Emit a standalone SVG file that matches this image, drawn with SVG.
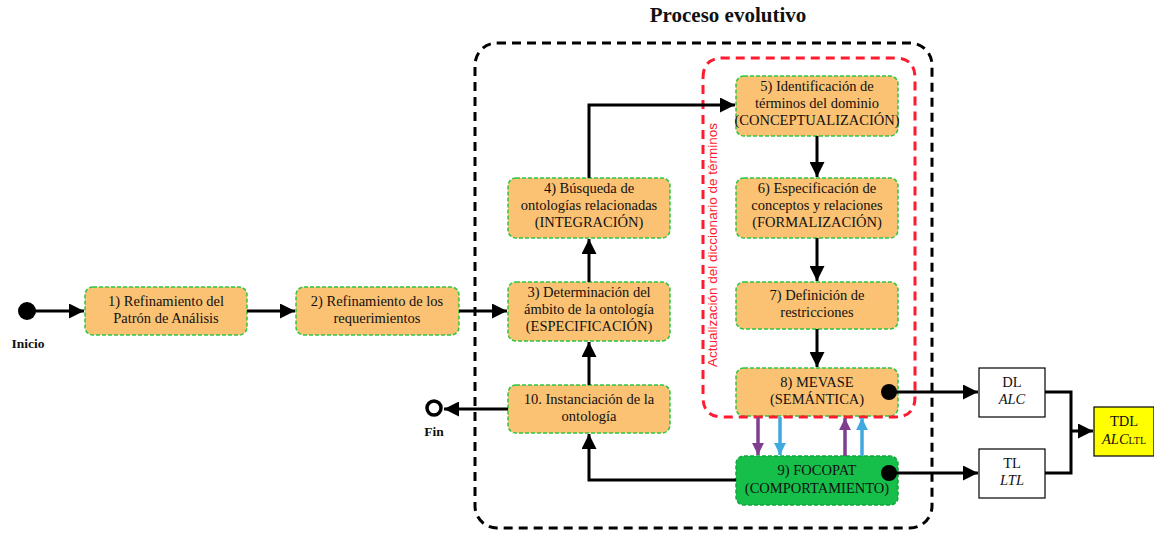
<svg xmlns="http://www.w3.org/2000/svg" width="1154" height="533" viewBox="0 0 1154 533">
  <defs>
    <marker id="ah" viewBox="0 0 10 10" refX="10" refY="5" markerWidth="6.5" markerHeight="5" markerUnits="strokeWidth" orient="auto">
      <path d="M0,0 L10,5 L0,10 z" fill="#000"/>
    </marker>
    <marker id="ahPurple" viewBox="0 0 10 10" refX="10" refY="5" markerWidth="3.6" markerHeight="3.4" markerUnits="strokeWidth" orient="auto">
      <path d="M0,0 L10,5 L0,10 z" fill="#7f3f8f"/>
    </marker>
    <marker id="ahBlue" viewBox="0 0 10 10" refX="10" refY="5" markerWidth="3.6" markerHeight="3.4" markerUnits="strokeWidth" orient="auto">
      <path d="M0,0 L10,5 L0,10 z" fill="#3fa9e0"/>
    </marker>
  </defs>
  <style>
    .step { fill: #fbc273; stroke: #2cc640; stroke-width: 1.5; stroke-dasharray: 4 2; }
    .step-green { fill: #15bf4a; stroke: #0ea83b; stroke-width: 1.5; stroke-dasharray: 4 2; }
    .logic { fill: #fff; stroke: #000; stroke-width: 1.2; }
    .label { font-family: "Liberation Serif", serif; font-size: 14.5px; fill: #111; text-anchor: middle; }
    .bold { font-family: "Liberation Serif", serif; font-weight: bold; fill: #111; text-anchor: middle; }
    .conn { fill: none; stroke: #000; stroke-width: 3; }
    .dot { fill: #000; }
  </style>

  <rect width="1154" height="533" fill="#fff"/>

  <!-- Frames -->
  <text class="bold" x="728" y="22" font-size="21">Proceso evolutivo</text>
  <rect x="475" y="43" width="457" height="485" rx="22" fill="none" stroke="#000" stroke-width="3" stroke-dasharray="9 6"/>

  <!-- Nodes -->
  <g id="inicio">
    <circle cx="27" cy="311" r="9" class="dot"/>
    <text class="bold" x="28" y="348" font-size="13.5">Inicio</text>
  </g>
  <g id="fin">
    <circle cx="434" cy="408" r="7" fill="#fff" stroke="#000" stroke-width="3.5"/>
    <text class="bold" x="434" y="436" font-size="13.5">Fin</text>
  </g>
  <g id="n1">
    <rect class="step" x="85" y="287" width="162" height="48" rx="8"/>
    <text class="label" x="166" y="306">1) Refinamiento del</text>
    <text class="label" x="166" y="323">Patrón de Análisis</text>
  </g>
  <g id="n2">
    <rect class="step" x="296" y="287" width="163" height="48" rx="8"/>
    <text class="label" x="377" y="306">2) Refinamiento de los</text>
    <text class="label" x="377" y="323">requerimientos</text>
  </g>
  <g id="n3">
    <rect class="step" x="508" y="282" width="162" height="59" rx="8"/>
    <text class="label" x="589" y="297">3) Determinación del</text>
    <text class="label" x="589" y="314">ámbito de la ontología</text>
    <text class="label" x="589" y="331">(ESPECIFICACIÓN)</text>
  </g>
  <g id="n4">
    <rect class="step" x="508" y="178" width="162" height="60" rx="8"/>
    <text class="label" x="589" y="193">4) Búsqueda de</text>
    <text class="label" x="589" y="210">ontologías relacionadas</text>
    <text class="label" x="589" y="227">(INTEGRACIÓN)</text>
  </g>
  <g id="n10">
    <rect class="step" x="508" y="385" width="162" height="48" rx="8"/>
    <text class="label" x="589" y="404">10. Instanciación de la</text>
    <text class="label" x="589" y="421">ontología</text>
  </g>
  <g id="n5">
    <rect class="step" x="736" y="76" width="162" height="60" rx="8"/>
    <text class="label" x="817" y="91">5) Identificación de</text>
    <text class="label" x="817" y="108">términos del dominio</text>
    <text class="label" x="817" y="125">(CONCEPTUALIZACIÓN)</text>
  </g>
  <g id="n6">
    <rect class="step" x="736" y="178" width="162" height="60" rx="8"/>
    <text class="label" x="817" y="193">6) Especificación de</text>
    <text class="label" x="817" y="210">conceptos y relaciones</text>
    <text class="label" x="817" y="227">(FORMALIZACIÓN)</text>
  </g>
  <g id="n7">
    <rect class="step" x="736" y="282" width="162" height="47" rx="8"/>
    <text class="label" x="817" y="300">7) Definición de</text>
    <text class="label" x="817" y="317">restricciones</text>
  </g>
  <g id="n8">
    <rect class="step" x="736" y="368" width="162" height="48" rx="8"/>
    <text class="label" x="817" y="387">8) MEVASE</text>
    <text class="label" x="817" y="404">(SEMÁNTICA)</text>
  </g>
  <g id="n9">
    <rect class="step-green" x="736" y="456" width="162" height="49" rx="8"/>
    <text class="label" x="817" y="475">9) FOCOPAT</text>
    <text class="label" x="817" y="493">(COMPORTAMIENTO)</text>
  </g>

  <!-- Term dictionary update region -->
  <g id="actualizacion">
    <path d="M703,78 Q703,58 723,58 L895,58 Q915,58 915,78 L915,397 Q915,417 895,417 L723,417 Q703,417 703,397 Z" fill="none" stroke="#ff1a2e" stroke-width="3" stroke-dasharray="9 6"/>
    <text x="717" y="245" transform="rotate(-90 717 245)" font-family="Liberation Sans, sans-serif" font-size="13.5" fill="#ff1a2e" text-anchor="middle">Actualización del diccionario de términos</text>
  </g>

  <g id="dl">
    <rect class="logic" x="979" y="368" width="66" height="49"/>
    <text class="label" x="1012" y="387">DL</text>
    <text class="label" x="1012" y="404" font-style="italic">ALC</text>
  </g>
  <g id="tl">
    <rect class="logic" x="979" y="449" width="66" height="49"/>
    <text class="label" x="1012" y="468">TL</text>
    <text class="label" x="1012" y="485" font-style="italic">LTL</text>
  </g>
  <g id="tdl">
    <rect x="1094" y="407" width="60" height="49" fill="#ffff00" stroke="#000" stroke-width="1.2"/>
    <text class="label" x="1124" y="426">TDL</text>
    <text class="label" x="1124" y="444"><tspan font-style="italic">ALC</tspan><tspan font-size="10">LTL</tspan></text>
  </g>

  <!-- Connectors -->
  <g id="connectors">
    <path class="conn" d="M27,311 L84,311" marker-end="url(#ah)"/>
    <path class="conn" d="M247,311 L295,311" marker-end="url(#ah)"/>
    <path class="conn" d="M459,311 L507,311" marker-end="url(#ah)"/>
    <path class="conn" d="M589,282 L589,239" marker-end="url(#ah)"/>
    <path class="conn" d="M589,385 L589,342" marker-end="url(#ah)"/>
    <path class="conn" d="M589,178 L589,105 L735,105" marker-end="url(#ah)"/>
    <path class="conn" d="M817,136 L817,177" marker-end="url(#ah)"/>
    <path class="conn" d="M817,238 L817,281" marker-end="url(#ah)"/>
    <path class="conn" d="M817,329 L817,367" marker-end="url(#ah)"/>
    <path class="conn" d="M508,409 L444,409" marker-end="url(#ah)"/>
    <path class="conn" d="M736,480 L589,480 L589,434" marker-end="url(#ah)"/>
    <circle class="dot" cx="889" cy="392" r="8"/>
    <path class="conn" d="M889,392 L978,392" marker-end="url(#ah)"/>
    <circle class="dot" cx="889" cy="473" r="8"/>
    <path class="conn" d="M889,473 L978,473" marker-end="url(#ah)"/>
    <path class="conn" d="M1045,392 L1071,392 L1071,473 L1045,473"/>
    <path class="conn" d="M1071,431 L1093,431" marker-end="url(#ah)"/>
    <path d="M758,417 L758,455" stroke="#7f3f8f" stroke-width="3.5" fill="none" marker-end="url(#ahPurple)"/>
    <path d="M780,417 L780,455" stroke="#3fa9e0" stroke-width="3.5" fill="none" marker-end="url(#ahBlue)"/>
    <path d="M845,456 L845,418" stroke="#7f3f8f" stroke-width="3.5" fill="none" marker-end="url(#ahPurple)"/>
    <path d="M862,456 L862,418" stroke="#3fa9e0" stroke-width="3.5" fill="none" marker-end="url(#ahBlue)"/>
  </g>
</svg>
